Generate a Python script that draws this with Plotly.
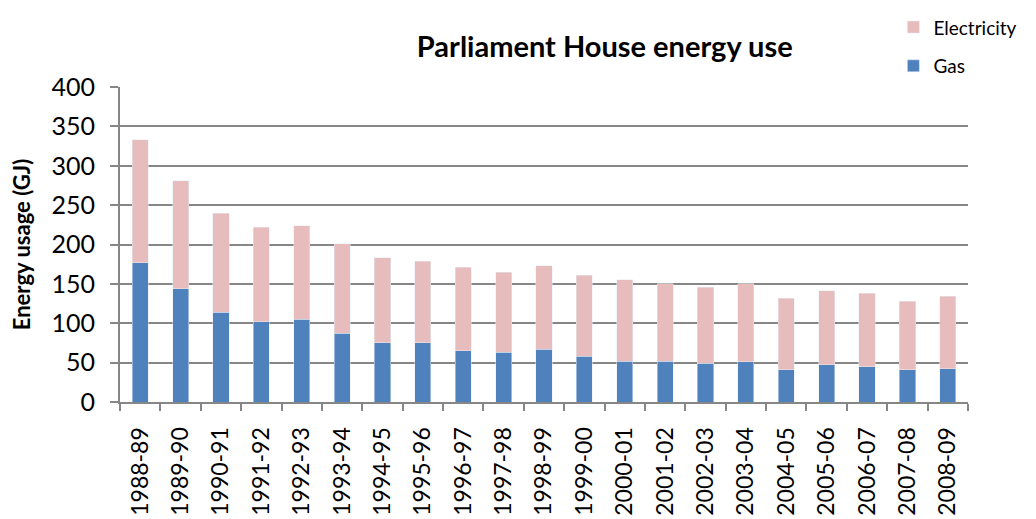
import plotly.graph_objects as go

years = ['1988-89', '1989-90', '1990-91', '1991-92', '1992-93', '1993-94', '1994-95',
         '1995-96', '1996-97', '1997-98', '1998-99', '1999-00', '2000-01', '2001-02',
         '2002-03', '2003-04', '2004-05', '2005-06', '2006-07', '2007-08', '2008-09']

# (GJ)
gas = [177, 144, 114, 102, 105, 87, 75, 75, 65, 63, 67, 58, 52, 52, 49, 51, 41, 47, 45, 41, 42]
electricity = [156, 137, 126, 120, 119, 114, 108, 104, 106, 102, 106, 103, 103, 98, 97, 99, 91, 94, 93, 87, 92]

font_family = "Lato, 'Noto Sans', sans-serif"
grid_col = '#868686'

fig = go.Figure()
fig.add_trace(go.Bar(x=years, y=gas, name='Gas', marker_color='#4f81bd',
                     legendgroup='g', legendrank=2))
fig.add_trace(go.Bar(x=years, y=electricity, name='Electricity', marker_color='#e6bcbc',
                     legendgroup='e', legendrank=1))

fig.update_layout(
    barmode='stack',
    bargap=0.6,
    width=1036, height=519,
    margin=dict(l=112, r=76, t=79, b=125, autoexpand=False),
    plot_bgcolor='white', paper_bgcolor='white',
    font=dict(family=font_family, color='black'),
    title=dict(text='<b>Parliament House energy use</b>', x=0.576, xanchor='center',
               y=0.925, yanchor='middle', font=dict(size=29)),
    legend=dict(x=0.912, xanchor='left', y=1.25, yanchor='top',
                traceorder='grouped', tracegroupgap=11,
                font=dict(size=19), bgcolor='rgba(0,0,0,0)'),
    showlegend=True,
)

fig.update_yaxes(
    range=[0, 400], dtick=50,
    showgrid=True, gridcolor=grid_col, gridwidth=2,
    showline=True, linecolor=grid_col, linewidth=2,
    ticks='outside', ticklen=8, tickcolor=grid_col, tickwidth=2,
    tickfont=dict(size=25), ticklabelstandoff=10,
    title=dict(text='<b>Energy usage (GJ)</b>', font=dict(size=22), standoff=22),
    zeroline=False,
)
fig.update_xaxes(
    type='category',
    showline=True, linecolor=grid_col, linewidth=2,
    ticks='outside', ticklen=7, tickcolor=grid_col, tickwidth=2,
    tickson='boundaries', tickangle=-90,
    tickfont=dict(size=23), ticklabelstandoff=14,
)

fig.write_html("out.html")
